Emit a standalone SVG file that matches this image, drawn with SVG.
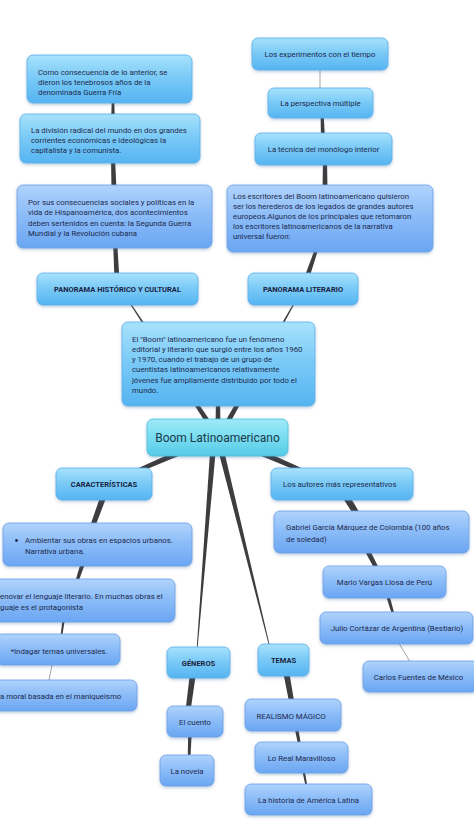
<svg xmlns="http://www.w3.org/2000/svg" width="474" height="834" viewBox="0 0 474 834">
<defs>
<linearGradient id="gLvl" x1="0" y1="0" x2="0" y2="1">
<stop offset="0" stop-color="#a8e2fc"/><stop offset="0.45" stop-color="#7ccbf7"/><stop offset="1" stop-color="#55b4f1"/>
</linearGradient>
<linearGradient id="gLeaf" x1="0" y1="0" x2="0" y2="1">
<stop offset="0" stop-color="#b0d3fc"/><stop offset="0.45" stop-color="#8dbdf8"/><stop offset="1" stop-color="#6aa6f2"/>
</linearGradient>
<linearGradient id="gRoot" x1="0" y1="0" x2="0" y2="1">
<stop offset="0" stop-color="#9eeaf8"/><stop offset="0.5" stop-color="#79dcf1"/><stop offset="1" stop-color="#55cbe6"/>
</linearGradient>
<filter id="sh" x="-10%" y="-20%" width="120%" height="150%">
<feDropShadow dx="0" dy="1.5" stdDeviation="1.6" flood-color="#3a6f9f" flood-opacity="0.35"/>
</filter>
</defs>
<style>
.lvl{fill:url(#gLvl);stroke:#5aaee8;stroke-width:0.8;filter:url(#sh)}
.leaf{fill:url(#gLeaf);stroke:#6d9fe6;stroke-width:0.8;filter:url(#sh)}
.root{fill:url(#gRoot);stroke:#4fbdd8;stroke-width:0.8;filter:url(#sh)}
text{font-family:Roboto,"Liberation Sans",sans-serif;fill:#1d2a4d;font-size:7.8px}
.c{text-anchor:middle}
.b{font-weight:bold;font-size:7.5px;fill:#1a2340}
.rt{font-size:12px;fill:#1b3a4a}
.con polygon{fill:#3d3d40}
.con line{stroke:#9a9a9a;stroke-width:0.9}
</style>

<g id="connectors" class="con">
<polygon points="220.5,425 220,400 216,400 215.5,425"/>
<polygon points="212.09,423.63 128.42,299.73 127.58,300.27 207.91,426.37"/>
<polygon points="228.18,426.22 296.44,300.24 295.56,299.76 223.82,423.78"/>
<polygon points="119.5,279.9 117,239.9 113,240.1 114.5,280.1"/>
<polygon points="116.5,190 115,158 111,158 111.5,190"/>
<polygon points="114.8,120 114.2,98 111.8,98 111.2,120"/>
<polygon points="308.37,280.81 319.42,245.49 316.58,244.51 303.63,279.19"/>
<polygon points="327.5,190 327,160 323,160 322.5,190"/>
<polygon points="325,138 323.5,113 320.5,113 321,138"/>
<line x1="320" y1="93" x2="320" y2="65"/>
<polygon points="188.81,445.25 129.2,472.17 130.8,475.83 191.19,450.75"/>
<polygon points="248.81,450.75 309.2,475.83 310.8,472.17 251.19,445.25"/>
<polygon points="101.18,493.97 89.65,527.15 94.35,528.85 106.82,496.03"/>
<polygon points="81.91,559.3 74.58,583.53 77.42,584.47 86.09,560.7"/>
<polygon points="62.8,616.8 60.2,638.9 61.8,639.1 65.2,617.2"/>
<line x1="53" y1="660" x2="48" y2="685"/>
<polygon points="210.21,449.78 196.6,649.97 197.4,650.03 215.79,450.22"/>
<polygon points="218.28,450.67 269.61,648.1 270.39,647.9 223.72,449.33"/>
<polygon points="190.03,672.61 185.52,710.67 190.48,711.33 195.97,673.39"/>
<polygon points="188.2,732 187.7,760 190.3,760 191.8,732"/>
<polygon points="283.04,671.54 289.54,704.45 294.46,703.55 288.96,670.46"/>
<polygon points="294.2,726.3 298.7,747.2 301.3,746.8 297.8,725.7"/>
<polygon points="301.8,768.2 306.2,789.2 307.8,788.8 304.2,767.8"/>
<polygon points="342.02,496.84 355.45,517.58 360.55,514.42 347.98,493.16"/>
<polygon points="363.78,549.16 376.22,571.93 379.78,570.07 368.22,546.84"/>
<polygon points="385.27,593.5 392.85,617.34 395.15,616.66 388.73,592.5"/>
<line x1="397" y1="640" x2="412" y2="665"/>
</g>

<g id="n-como"><rect class="lvl" x="27" y="55" width="165" height="48" rx="6"/>
<text x="38" y="75">Como consecuencia de lo anterior, se<tspan x="38" dy="10">dieron los tenebrosos años de la</tspan><tspan x="38" dy="10">denominada Guerra Fría</tspan></text></g>

<g id="n-division"><rect class="lvl" x="20" y="114" width="180" height="49" rx="6"/>
<text x="31" y="133">La división radical del mundo en dos grandes<tspan x="31" dy="10">corrientes económicas e ideológicas la</tspan><tspan x="31" dy="10">capitalista y la comunista.</tspan></text></g>

<g id="n-porsus"><rect class="leaf" x="17" y="185" width="195" height="63" rx="6"/>
<text x="28" y="204.5">Por sus consecuencias sociales y políticas en la<tspan x="28" dy="10.5">vida de Hispanoamérica, dos acontecimientos</tspan><tspan x="28" dy="10.5">deben sertenidos en cuenta: la Segunda Guerra</tspan><tspan x="28" dy="10.5">Mundial y la Revolución cubana</tspan></text></g>

<g id="n-experimentos"><rect class="lvl" x="252" y="38" width="136" height="32" rx="6"/>
<text class="c" x="320" y="57">Los experimentos con el tiempo</text></g>

<g id="n-perspectiva"><rect class="lvl" x="268" y="88" width="105" height="30" rx="6"/>
<text class="c" x="320.5" y="106">La perspectiva múltiple</text></g>

<g id="n-tecnica"><rect class="lvl" x="255" y="133" width="137" height="32" rx="6"/>
<text class="c" x="323.5" y="152">La técnica del monólogo interior</text></g>

<g id="n-escritores"><rect class="leaf" x="227" y="185" width="206" height="67" rx="6"/>
<text x="233" y="199">Los escritores del Boom latinoamericano quisieron<tspan x="233" dy="10">ser los herederos de los legados de grandes autores</tspan><tspan x="233" dy="10">europeos.Algunos de los principales que retomaron</tspan><tspan x="233" dy="10">los escritores latinoamericanos de la narrativa</tspan><tspan x="233" dy="10">universal fueron:</tspan></text></g>

<g id="n-panhist"><rect class="lvl" x="37" y="273" width="161" height="32" rx="6"/>
<text class="c b" x="117.5" y="292">PANORAMA HISTÓRICO Y CULTURAL</text></g>

<g id="n-panlit"><rect class="lvl" x="248" y="273" width="110" height="32" rx="6"/>
<text class="c b" x="303" y="292">PANORAMA LITERARIO</text></g>

<g id="n-elboom"><rect class="lvl" x="122" y="322" width="193" height="84" rx="6"/>
<text x="132" y="341.5">El "Boom" latinoamericano fue un fenómeno<tspan x="132" dy="10.3">editorial y literario que surgió entre los años 1960</tspan><tspan x="132" dy="10.3">y 1970,  cuando el trabajo de un grupo de</tspan><tspan x="132" dy="10.3">cuentistas latinoamericanos relativamente</tspan><tspan x="132" dy="10.3">jóvenes fue ampliamente  distribuido por todo el</tspan><tspan x="132" dy="10.3">mundo.</tspan></text></g>

<g id="n-root"><rect class="root" x="147" y="419" width="141" height="37" rx="6"/>
<text class="c rt" x="217.5" y="442">Boom Latinoamericano</text></g>

<g id="n-caract"><rect class="lvl" x="56" y="468" width="96" height="32" rx="6"/>
<text class="c b" x="104" y="487">CARACTERÍSTICAS</text></g>

<g id="n-autores"><rect class="lvl" x="271" y="468" width="142" height="32" rx="6"/>
<text x="283" y="487">Los autores más representativos</text></g>

<g id="n-ambientar"><rect class="leaf" x="3" y="523" width="189" height="43" rx="6"/>
<circle cx="16.5" cy="540.5" r="1.4" fill="#1d2a4d"/>
<text x="25" y="543">Ambientar sus obras en espacios urbanos.<tspan x="25" dy="10.5">Narrativa urbana.</tspan></text></g>

<g id="n-renovar"><rect class="leaf" x="-20" y="579" width="195" height="43" rx="6"/>
<text x="0" y="599">enovar el lenguaje literario. En muchas obras el<tspan x="0" dy="10.5">guaje es el protagonista</tspan></text></g>

<g id="n-indagar"><rect class="leaf" x="-4" y="634" width="124" height="31" rx="6"/>
<text class="c" x="59" y="654">*Indagar temas universales.</text></g>

<g id="n-moral"><rect class="leaf" x="-30" y="680" width="167" height="31" rx="6"/>
<text x="0" y="699">a moral basada en el maniqueismo</text></g>

<g id="n-generos"><rect class="lvl" x="167" y="647" width="63" height="31" rx="6"/>
<text class="c b" x="198.5" y="666">GÉNEROS</text></g>

<g id="n-cuento"><rect class="leaf" x="167" y="706" width="56" height="31" rx="6"/>
<text class="c" x="195" y="725">El cuento</text></g>

<g id="n-novela"><rect class="leaf" x="160" y="755" width="54" height="31" rx="6"/>
<text class="c" x="187" y="774">La novela</text></g>

<g id="n-temas"><rect class="lvl" x="258" y="644" width="51" height="32" rx="6"/>
<text class="c b" x="283.5" y="663">TEMAS</text></g>

<g id="n-realismo"><rect class="leaf" x="245" y="699" width="96" height="32" rx="6"/>
<text class="c" x="291" y="719">REALISMO MÁGICO</text></g>

<g id="n-loreal"><rect class="leaf" x="255" y="742" width="93" height="31" rx="6"/>
<text class="c" x="301.5" y="761">Lo Real Maravilloso</text></g>

<g id="n-historia"><rect class="leaf" x="245" y="784" width="127" height="31" rx="6"/>
<text class="c" x="308.5" y="803">La historia de América Latina</text></g>

<g id="n-gabriel"><rect class="leaf" x="274" y="511" width="195" height="42" rx="6"/>
<text x="286" y="530">Gabriel García Márquez de Colombia  (100 años<tspan x="286" dy="12">de soledad)</tspan></text></g>

<g id="n-mario"><rect class="leaf" x="323" y="566" width="123" height="32" rx="6"/>
<text class="c" x="384.5" y="585">Mario Vargas Llosa  de Perú</text></g>

<g id="n-julio"><rect class="leaf" x="320" y="612" width="153" height="32" rx="6"/>
<text class="c" x="397" y="631">Julio Cortázar de Argentina (Bestiario)</text></g>

<g id="n-carlos"><rect class="leaf" x="363" y="661" width="115" height="31" rx="6"/>
<text class="c" x="418.5" y="680">Carlos Fuentes de México</text></g>
</svg>
